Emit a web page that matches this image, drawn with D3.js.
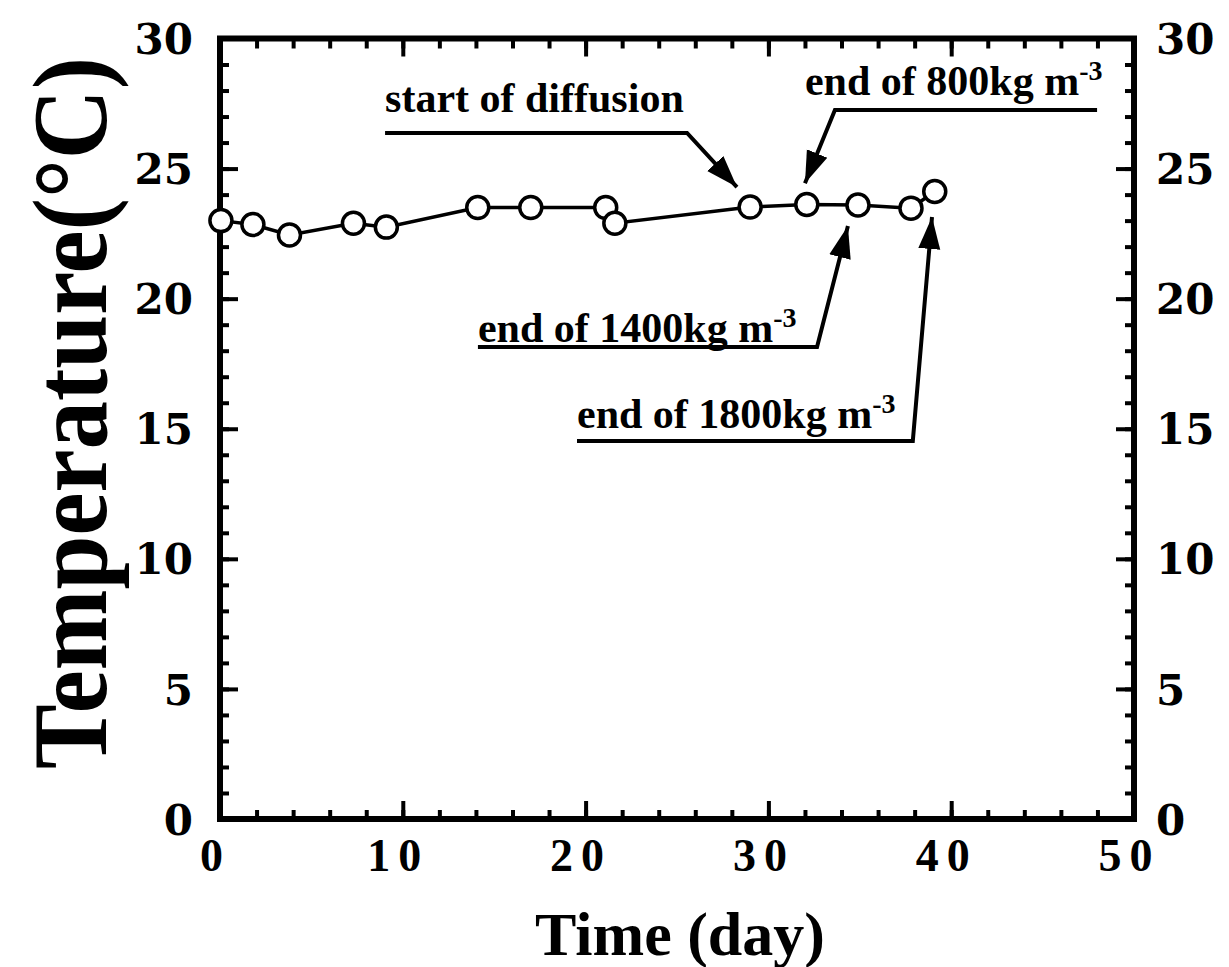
<!DOCTYPE html>
<html lang="en">
<head>
<meta charset="utf-8">
<title>Temperature during diffusion test</title>
<script src="https://cdn.jsdelivr.net/npm/d3@7"></script>
<style>
  body { margin: 0; background: #fff; }
  svg text { font-family: "Liberation Serif", "Times New Roman", serif; font-weight: bold; fill: #000; }
  .ylab text { font-family: "DejaVu Serif", serif; }
</style>
</head>
<body>
<div id="chart"></div>
<script>
// measured points (day, deg C)
var days  = [0.05, 1.8, 3.8, 7.3, 9.1, 14.1, 17.0, 21.1, 21.6, 29.0, 32.1, 34.9, 37.8, 39.1];
var temps = [23.0, 22.85, 22.45, 22.9, 22.75, 23.5, 23.5, 23.5, 22.9, 23.52, 23.62, 23.6, 23.48, 24.12];

var xTicks = [0, 10, 20, 30, 40, 50];
var yTicks = [0, 5, 10, 15, 20, 25, 30];

// annotations, anchored in data units: label baseline + leader (underline, bend, arrow tip)
var noteText = ["start of diffusion", "end of 800kg m", "end of 1400kg m", "end of 1800kg m"];
var noteSup  = ["", "-3", "-3", "-3"];
var noteAt   = [[9.03, 27.17], [32.0, 27.83], [14.11, 18.33], [19.53, 15.03]];
var noteLeader = [
  [[9.03, 26.37], [25.55, 26.37], [28.28, 24.29]],
  [[47.98, 27.25], [33.64, 27.25], [32.0, 24.44]],
  [[14.11, 18.14], [32.66, 18.14], [34.35, 22.79]],
  [[19.53, 14.53], [37.9, 14.53], [38.95, 23.14]]
];

var w = 1229, h = 967;
var pLeft = 220, pRight = 1134, pTop = 38.5, pBottom = 819;

var svg = d3.select("#chart").append("svg")
  .attr("width", w).attr("height", h);

var x = d3.scaleLinear().domain([0, 50]).range([pLeft, pRight]);
var y = d3.scaleLinear().domain([0, 30]).range([pBottom, pTop]);

svg.append("defs").append("marker")
  .attr("id", "head")
  .attr("viewBox", "0 -12 32 24")
  .attr("refX", 32).attr("refY", 0)
  .attr("markerUnits", "userSpaceOnUse")
  .attr("markerWidth", 32).attr("markerHeight", 24)
  .attr("orient", "auto")
  .append("path").attr("d", "M0,-11L32,0L0,11Z").attr("fill", "#000");

function styleTicks(g, width) {
  g.select(".domain").remove();
  g.selectAll(".tick line").attr("stroke", "#000").attr("stroke-width", width);
}

// minor ticks on all four sides
var xMinor = d3.range(0, 51, 2), yMinor = d3.range(0, 31, 1);
svg.append("g").attr("transform", "translate(0," + pBottom + ")")
  .call(d3.axisBottom(x).tickValues(xMinor).tickSize(-9).tickFormat(""))
  .call(styleTicks, 4);
svg.append("g").attr("transform", "translate(0," + pTop + ")")
  .call(d3.axisTop(x).tickValues(xMinor).tickSize(-10).tickFormat(""))
  .call(styleTicks, 4);
svg.append("g").attr("transform", "translate(" + pLeft + ",0)")
  .call(d3.axisLeft(y).tickValues(yMinor).tickSize(-9).tickFormat(""))
  .call(styleTicks, 4);
svg.append("g").attr("transform", "translate(" + pRight + ",0)")
  .call(d3.axisRight(y).tickValues(yMinor).tickSize(-9).tickFormat(""))
  .call(styleTicks, 4);

// major ticks + labels
var gx = svg.append("g").attr("transform", "translate(0," + pBottom + ")")
  .call(d3.axisBottom(x).tickValues(xTicks).tickSize(-18).tickPadding(19))
  .call(styleTicks, 4);
gx.selectAll("text").attr("font-size", 46).attr("letter-spacing", 8).attr("dx", -5);

svg.append("g").attr("transform", "translate(0," + pTop + ")")
  .call(d3.axisTop(x).tickValues(xTicks).tickSize(-18).tickFormat(""))
  .call(styleTicks, 4);

var gl = svg.append("g").attr("class", "ylab").attr("transform", "translate(" + pLeft + ",0)")
  .call(d3.axisLeft(y).tickValues(yTicks).tickSize(-18).tickPadding(27))
  .call(styleTicks, 4);
gl.selectAll("text").attr("font-size", 42).attr("dy", "0.36em");

var gr = svg.append("g").attr("class", "ylab").attr("transform", "translate(" + pRight + ",0)")
  .call(d3.axisRight(y).tickValues(yTicks).tickSize(-18).tickPadding(22))
  .call(styleTicks, 4);
gr.selectAll("text").attr("font-size", 42).attr("dy", "0.36em");

// frame
svg.append("rect")
  .attr("x", pLeft).attr("y", pTop)
  .attr("width", pRight - pLeft).attr("height", pBottom - pTop)
  .attr("fill", "none").attr("stroke", "#000").attr("stroke-width", 6);

// axis titles
svg.append("text")
  .attr("x", (pLeft + pRight) / 2 + 3).attr("y", 955)
  .attr("text-anchor", "middle")
  .attr("font-size", 62)
  .text("Time (day)");

// y title: tall narrow glyphs, squeezed along the text direction to fit the axis
var yTitle = svg.append("text")
  .attr("text-anchor", "middle")
  .attr("font-size", 106)
  .text("Temperature(°C)");
var squeeze = 712 / yTitle.node().getComputedTextLength();
yTitle.attr("transform", "translate(106,413) rotate(-90) scale(" + squeeze + ",1)");

// data line and points
var pts = days.map(function (d, i) { return [d, temps[i]]; });

svg.append("path")
  .datum(pts)
  .attr("fill", "none").attr("stroke", "#000").attr("stroke-width", 3.5)
  .attr("d", d3.line().x(function (d) { return x(d[0]); }).y(function (d) { return y(d[1]); }));

svg.selectAll("circle.pt")
  .data(pts).enter().append("circle")
  .attr("class", "pt")
  .attr("cx", function (d) { return x(d[0]); })
  .attr("cy", function (d) { return y(d[1]); })
  .attr("r", 11)
  .attr("fill", "#fff").attr("stroke", "#000").attr("stroke-width", 3.5);

// annotations
noteText.forEach(function (t, i) {
  var lab = svg.append("text")
    .attr("x", x(noteAt[i][0])).attr("y", y(noteAt[i][1]))
    .attr("font-size", 42);
  lab.append("tspan").text(t);
  if (noteSup[i]) {
    lab.append("tspan").attr("font-size", 28).attr("dy", -15).text(noteSup[i]);
  }
  svg.append("path")
    .attr("d", d3.line().x(function (d) { return x(d[0]); }).y(function (d) { return y(d[1]); })(noteLeader[i]))
    .attr("fill", "none").attr("stroke", "#000").attr("stroke-width", 4)
    .attr("marker-end", "url(#head)");
});
</script>
</body>
</html>
